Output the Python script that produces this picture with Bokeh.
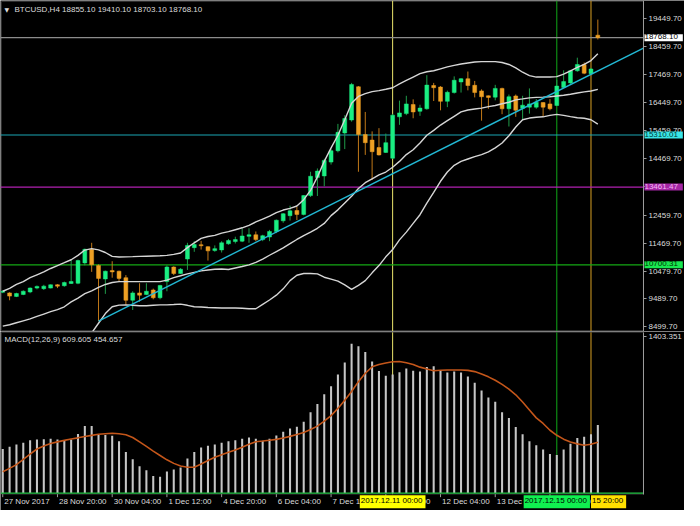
from bokeh.plotting import figure
from bokeh.layouts import column
from bokeh.models import (Range1d, Span, Label, LabelSet, ColumnDataSource, FixedTicker,
                          PrintfTickFormatter, BoxAnnotation)
from bokeh.core.properties import value
from bokeh.embed import file_html
from bokeh.resources import INLINE

# ---------------- data ----------------
OPEN = [9726, 9702, 9578, 9647, 9737, 9874, 9854, 9874, 9991, 9957,
        10036, 10046, 10769, 11251, 10680, 10198, 10494, 10473, 10242, 9441,
        9702, 9647, 9805, 9530, 10105, 10621, 10391, 10907, 11310, 11413,
        11344, 11206, 11230, 11447, 11526, 11540, 11712, 11767, 11595, 11688,
        11884, 12263, 12445, 12628, 12490, 13158, 13798, 13857, 14349, 14752,
        15382, 15843, 17023, 15327, 15130, 14865, 14693, 14487, 15956, 16070,
        16394, 16153, 16242, 17068, 17013, 16507, 16817, 17195, 17309, 17075,
        16876, 16703, 16655, 16965, 16242, 16696, 16256, 16300, 16300, 16462,
        16414, 16359, 17000, 17161, 17591, 17815, 17488, 18855.10]
HIGH = [9795, 9726, 9709, 9795, 9898, 9967, 9991, 10002, 10012, 10105,
        10886, 10886, 11275, 11482, 10714, 10494, 10828, 10494, 10335, 9761,
        10046, 10046, 9854, 9991, 10680, 10645, 10587, 11482, 11540, 11550,
        11361, 11389, 11540, 11619, 11698, 11998, 11998, 11884, 11767, 11940,
        12308, 12538, 12800, 12765, 13168, 14005, 14122, 14466, 14810, 15705,
        16015, 17161, 17047, 16129, 15440, 15554, 15361, 16060, 16531, 16703,
        16576, 16386, 17436, 17161, 17047, 16886, 17392, 17333, 17564, 17230,
        16931, 16713, 17092, 16989, 16748, 16748, 16703, 16965, 16586, 16473,
        16586, 17275, 17608, 17626, 18056, 17884, 17695, 19410.10]
LOW = [9692, 9441, 9554, 9623, 9692, 9829, 9805, 9864, 9874, 9922,
       10019, 10012, 10680, 10449, 8700, 9668, 10242, 10105, 9279, 9096,
       9392, 9623, 9475, 9475, 9761, 10335, 10370, 10518, 11162, 11241,
       10852, 11162, 11137, 11413, 11458, 11506, 11482, 11540, 11540, 11540,
       11826, 12194, 12273, 12290, 12456, 13110, 13144, 13488, 14260, 14693,
       14810, 15784, 14005, 14604, 13719, 14580, 14672, 14459, 15671, 16015,
       15905, 15991, 16208, 16517, 16187, 16300, 16782, 16817, 16896, 16645,
       15819, 16242, 16541, 16049, 15612, 15956, 15863, 16070, 16242, 15956,
       16187, 16352, 16972, 17127, 17557, 17471, 17471, 18703.10]
CLOSE = [9761, 9589, 9681, 9761, 9874, 9933, 9943, 9991, 9943, 10070,
         10105, 10852, 11251, 10700, 10218, 10473, 10449, 10218, 9441, 9702,
         9623, 9761, 9530, 9967, 10621, 10391, 10542, 11389, 11423, 11378,
         11196, 11275, 11482, 11561, 11595, 11723, 11767, 11595, 11733, 11884,
         12284, 12514, 12617, 12490, 13158, 13846, 14029, 14407, 14752, 15406,
         15898, 17102, 15327, 15037, 14717, 14604, 15037, 16015, 16094, 16414,
         16129, 16266, 17082, 16989, 16507, 16827, 17254, 17309, 17068, 16817,
         16669, 16645, 16965, 16242, 16669, 16187, 16369, 16414, 16473, 16300,
         16242, 17047, 17206, 17591, 17815, 17505, 17654, 18768.10]

BB_UPPER = [9761, 9863, 10002, 10105, 10243, 10346, 10449, 10570, 10673, 10776,
            10880, 11034, 11224, 11275, 11231, 11138, 11000, 10976, 10983, 10990,
            11000, 11007, 11014, 11021, 11034, 11069, 11120, 11310, 11482, 11637,
            11706, 11747, 11826, 11878, 11947, 12015, 12101, 12222, 12325, 12428,
            12556, 12645, 12704, 12790, 13014, 13341, 13822, 14373, 14855, 15302,
            15853, 16438, 16679, 16782, 16851, 16886, 16937, 16989, 17127, 17247,
            17368, 17488, 17557, 17591, 17660, 17729, 17781, 17832, 17867, 17901,
            17918, 17918, 17918, 17884, 17815, 17695, 17540, 17419, 17368, 17368,
            17368, 17385, 17471, 17591, 17712, 17815, 17953, 18194]
BB_MIDDLE = [8522, 8573, 8642, 8711, 8780, 8866, 8952, 9038, 9107, 9210,
             9382, 9520, 9675, 9778, 9899, 10002, 10071, 10105, 10105, 10105,
             10105, 10105, 10105, 10105, 10157, 10243, 10311, 10380, 10432, 10484,
             10518, 10542, 10552, 10535, 10587, 10640, 10700, 10790, 10900, 11040,
             11170, 11300, 11450, 11600, 11740, 11861, 11998, 12170, 12446, 12652,
             12893, 13134, 13409, 13616, 13754, 13891, 13995, 14167, 14373, 14614,
             14786, 15027, 15302, 15475, 15664, 15819, 15974, 16129, 16197, 16232,
             16266, 16318, 16359, 16421, 16473, 16559, 16593, 16628, 16645, 16655,
             16669, 16697, 16724, 16758, 16800, 16841, 16875, 16931]
BB_LOWER = [7283, 7283, 7283, 7317, 7317, 7386, 7455, 7506, 7541, 7644,
            7885, 8006, 8126, 8281, 8625, 8969, 9210, 9268, 9279, 9262,
            9245, 9245, 9262, 9279, 9279, 9289, 9303, 9262, 9210, 9200,
            9186, 9176, 9165, 9165, 9165, 9159, 9141, 9141, 9296, 9451,
            9623, 9847, 10140, 10329, 10391, 10391, 10380, 10260, 10191, 10122,
            9985, 9830, 9968, 10140, 10415, 10673, 10983, 11241, 11585, 11861,
            12170, 12480, 12893, 13272, 13667, 13995, 14235, 14373, 14459, 14545,
            14614, 14710, 14855, 15027, 15285, 15595, 15853, 15912, 15939, 15956,
            16008, 16042, 16008, 15963, 15922, 15905, 15853, 15698]

MACD_HIST = [394, 414, 436, 451, 474, 479, 482, 487, 479, 474,
             479, 530, 601, 601, 521, 521, 513, 465, 368, 304,
             241, 204, 153, 145, 193, 210, 230, 309, 368, 408,
             423, 436, 451, 465, 474, 487, 499, 487, 470, 487,
             516, 550, 578, 595, 640, 725, 799, 885, 958, 1063,
             1171, 1338, 1316, 1265, 1180, 1095, 1052, 1063, 1083, 1117,
             1097, 1089, 1131, 1137, 1103, 1080, 1089, 1080, 1046, 989,
             919, 856, 819, 725, 674, 593, 527, 465, 428, 391,
             349, 340, 391, 442, 493, 504, 527, 609.605]
MACD_SIGNAL = [191, 221, 255, 302, 349, 395, 421, 444, 459, 472,
               484, 495, 507, 517, 527, 532, 536, 531, 522, 498,
               459, 418, 376, 337, 298, 266, 242, 231, 231, 261,
               292, 321, 343, 366, 386, 411, 437, 460, 466, 473,
               481, 493, 508, 525, 543, 570, 600, 645, 694, 759,
               832, 911, 999, 1074, 1132, 1152, 1166, 1177, 1180, 1169,
               1153, 1129, 1112, 1097, 1101, 1103, 1103, 1103, 1100, 1089,
               1068, 1042, 1011, 974, 931, 881, 816, 745, 674, 624,
               563, 518, 483, 458, 441, 429, 438, 454.657]

TREND_IDX = [14, 93.67]
TREND_PRICE = [8700, 18400]

PRICE_TICKS = [19449.70, 18459.70, 17469.70, 16449.70, 15459.70, 14469.70,
               13469.70, 12459.70, 11469.70, 10479.70, 9489.70, 8499.70]
MACD_TICKS = [1403.351]

TIME_TICK_IDX = [0, 8, 16, 24, 32, 40, 48, 56, 64, 72, 80]
TIME_TICK_LABELS = ["27 Nov 2017", "28 Nov 20:00", "30 Nov 04:00", "1 Dec 12:00",
                    "4 Dec 20:00", "6 Dec 04:00", "7 Dec 12:00", "8 Dec 20:00",
                    "12 Dec 04:00", "13 Dec 12:00", "14 Dec 20:00"]

HLINE_PRICES = [18768.10, 15310.01, 13461.47, 10700.31]
HLINE_COLORS = ["#8c8c8c", "#1aa6b4", "#b020b0", "#14a814"]
HLINE_BOX = ["#ffffff", "#3ae6e6", "#a426a4", "#18e850"]
HLINE_TEXT = ["#000000", "#003838", "#f4b4f4", "#003300"]

VLINE_IDX = [57, 81, 86]
VLINE_LABELS = ["2017.12.11 00:00", "2017.12.15 00:00", "15 20:00"]
VLINE_COLORS = ["#ece66c", "#10a818", "#d8a024"]
VLINE_BOX = ["#ffff00", "#10f050", "#ffe000"]
VLINE_ALIGN = ["center", "center", "left"]

TITLE_MAIN = "BTCUSD,H4  18855.10 19410.10 18703.10 18768.10"
TITLE_MACD = "MACD(12,26,9) 609.605 454.657"

# ---------------- layout constants ----------------
FONT = "Liberation Sans"
FS = "8px"
BG = "#000000"
GRAY = "#9c9c9c"
TXT = "#dcdcdc"
X_LEFT, X_END, X_RIGHT = -0.33, 93.67, 99.67      # chart area ends at X_END, price scale beyond
BOX_LEFT = -0.19
MAIN_Y = (8332, 20087)
MAIN_BOX = (8367, 20052)
MACD_Y = (-156.6, 1448.6)
MACD_BOX = (-10, 1441)
TIME_ROW_Y = -78
TICK_Y = (-10, -37)

common = dict(output_backend="svg", toolbar_location=None, y_axis_location="right",
              x_axis_location=None, background_fill_color=BG, border_fill_color=BG,
              outline_line_color=None, min_border_left=0, min_border_right=0,
              min_border_top=0, min_border_bottom=0, frame_width=684)


def style_y(ax, ticks, fmt, bounds):
    ax.fixed_location = X_END
    ax.bounds = bounds
    ax.ticker = FixedTicker(ticks=ticks)
    ax.formatter = PrintfTickFormatter(format=fmt)
    ax.axis_line_color = GRAY
    ax.major_tick_line_color = GRAY
    ax.major_tick_out = 3
    ax.major_tick_in = 0
    ax.minor_tick_line_color = None
    ax.major_label_text_color = TXT
    ax.major_label_text_font = FONT
    ax.major_label_text_font_size = FS
    ax.major_label_standoff = 2


# ---------------- main price panel ----------------
main = figure(frame_height=331, x_range=Range1d(X_LEFT, X_RIGHT),
              y_range=Range1d(*MAIN_Y), **common)
main.grid.visible = False
style_y(main.yaxis[0], PRICE_TICKS, "%.2f", MAIN_Y)

main.add_layout(BoxAnnotation(left=BOX_LEFT, right=X_END, bottom=MAIN_BOX[0], top=MAIN_BOX[1],
                              fill_color=None, line_color=GRAY, line_width=1, level="underlay"))

idx = list(range(len(OPEN)))
up = [i for i in idx if CLOSE[i] >= OPEN[i]]
dn = [i for i in idx if CLOSE[i] < OPEN[i]]

for v, c in zip(VLINE_IDX, VLINE_COLORS):
    main.add_layout(Span(location=v, dimension="height", line_color=c, line_width=1,
                         level="underlay"))

n_h = len(HLINE_PRICES)
main.segment(x0=[X_LEFT] * n_h, x1=[X_END] * n_h, y0=HLINE_PRICES, y1=HLINE_PRICES,
             line_color=HLINE_COLORS, line_width=1.2)

for sel, body, wick in ((up, "#1aee82", "#1f9c4a"), (dn, "#eea024", "#c07818")):
    src = ColumnDataSource(dict(
        x=sel,
        lo=[LOW[i] for i in sel], hi=[HIGH[i] for i in sel],
        top=[max(OPEN[i], CLOSE[i]) for i in sel],
        bot=[min(OPEN[i], CLOSE[i]) for i in sel]))
    main.segment(x0="x", y0="lo", x1="x", y1="hi", source=src, line_color=wick, line_width=1)
    main.vbar(x="x", width=0.57, top="top", bottom="bot", source=src,
              fill_color=body, line_color=body, line_width=0.5)

for band in (BB_UPPER, BB_MIDDLE, BB_LOWER):
    main.line(idx, band, line_color="#d6d6d6", line_width=1.4)

main.line(TREND_IDX, TREND_PRICE, line_color="#22b8d4", line_width=1.4)

for p, bg, tc in zip(HLINE_PRICES, HLINE_BOX, HLINE_TEXT):
    main.add_layout(Label(x=X_END, y=p, x_offset=1, text=f"{p:.2f}", text_align="left",
                          text_baseline="middle", text_font=FONT, text_font_size=FS,
                          text_color=tc, background_fill_color=bg, padding=(0, 5, 0, 2)))

main.add_layout(Label(x=4, y=322, x_units="screen", y_units="screen", text="\u25bc",
                      text_font="DejaVu Sans", text_font_size="6px", text_color=TXT,
                      text_baseline="middle"))
main.add_layout(Label(x=14, y=322, x_units="screen", y_units="screen", text=TITLE_MAIN,
                      text_font=FONT, text_font_size=FS, text_color=TXT,
                      text_baseline="middle"))

# ---------------- MACD panel ----------------
macd = figure(frame_height=179, x_range=main.x_range, y_range=Range1d(*MACD_Y), **common)
macd.grid.visible = False
style_y(macd.yaxis[0], MACD_TICKS, "%.3f", MACD_BOX)

macd.add_layout(BoxAnnotation(left=BOX_LEFT, right=X_END, bottom=MACD_BOX[0], top=MACD_BOX[1],
                              fill_color=None, line_color=GRAY, line_width=1, level="underlay"))

n_v = len(VLINE_IDX)
macd.segment(x0=VLINE_IDX, x1=VLINE_IDX, y0=[MACD_BOX[0]] * n_v, y1=[MACD_BOX[1]] * n_v,
             line_color=VLINE_COLORS, line_width=1)

macd.vbar(x=idx, top=MACD_HIST, bottom=0, width=0.3, fill_color="#c6c6c6", line_color=None)
macd.line(idx, MACD_SIGNAL, line_color="#c4561a", line_width=1.6)
macd.segment(x0=[X_LEFT], x1=[X_END], y0=[0], y1=[0], line_color="#22c444", line_width=1.2)

n_t = len(TIME_TICK_IDX)
macd.segment(x0=TIME_TICK_IDX, x1=TIME_TICK_IDX, y0=[TICK_Y[0]] * n_t, y1=[TICK_Y[1]] * n_t,
             line_color=GRAY, line_width=1)

macd.add_layout(Label(x=4, y=171, x_units="screen", y_units="screen", text=TITLE_MACD,
                      text_font=FONT, text_font_size=FS, text_color=TXT,
                      text_baseline="middle"))

tsrc = ColumnDataSource(dict(x=TIME_TICK_IDX, y=[TIME_ROW_Y] * n_t, text=TIME_TICK_LABELS))
macd.add_layout(LabelSet(x="x", y="y", text="text", source=tsrc,
                         x_offset=1.5, text_align="left", text_baseline="middle",
                         text_font=value(FONT), text_font_size=value(FS),
                         text_color=value(TXT)))

for v, t, bg, al in zip(VLINE_IDX, VLINE_LABELS, VLINE_BOX, VLINE_ALIGN):
    macd.add_layout(Label(x=v, y=TIME_ROW_Y, text=t, text_align=al,
                          text_baseline="middle", text_font=FONT, text_font_size=FS,
                          text_color="#000000", background_fill_color=bg,
                          padding=(1, 3, 1, 3)))

layout = column(main, macd, spacing=0)
open("out.html", "w").write(file_html(layout, INLINE))
